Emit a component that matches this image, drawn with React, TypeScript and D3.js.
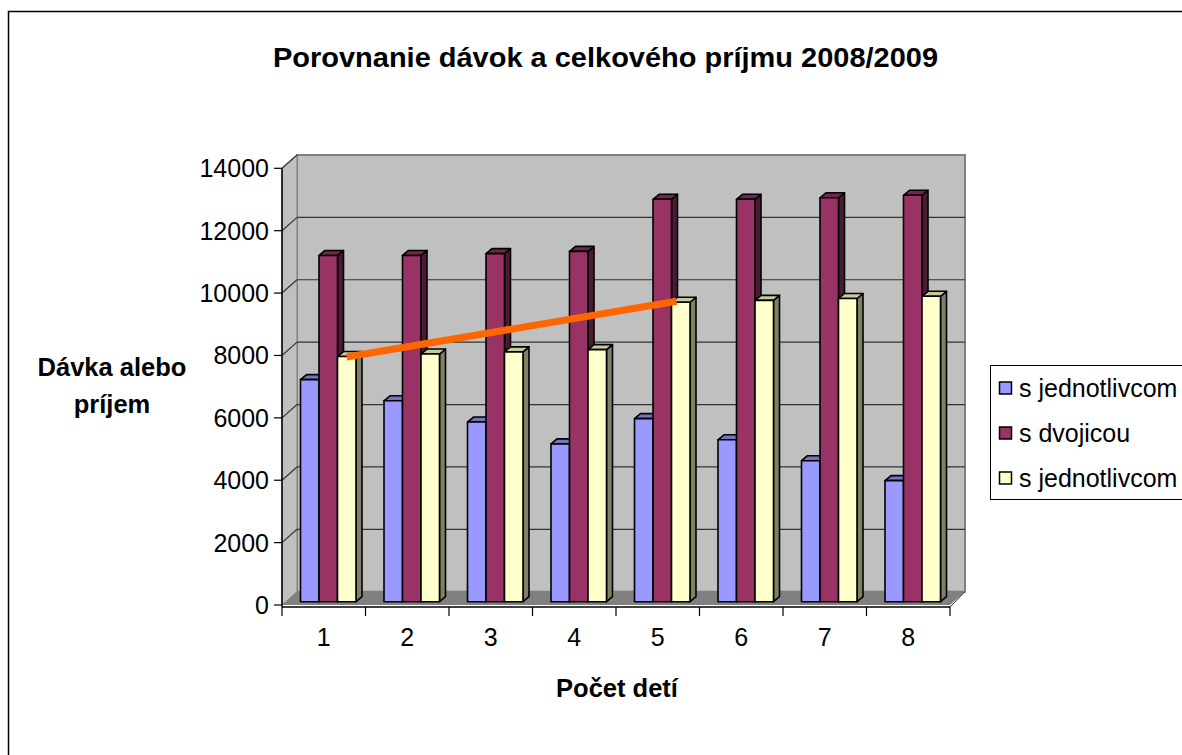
import React from "react";
import * as d3 from "d3";

const title = "Porovnanie dávok a celkového príjmu 2008/2009";
const yTitleLines = ["Dávka alebo", "príjem"];
const xTitle = "Počet detí";
const categories = ["1", "2", "3", "4", "5", "6", "7", "8"];
const seriesNames = ["s jednotlivcom", "s dvojicou", "s jednotlivcom"];
const seriesA = [7120, 6440, 5760, 5060, 5870, 5190, 4520, 3880];
const seriesB = [11100, 11100, 11160, 11230, 12900, 12900, 12950, 13030];
const seriesC = [7860, 7940, 8010, 8080, 9600, 9660, 9720, 9790];
const yTicks = [0, 2000, 4000, 6000, 8000, 10000, 12000, 14000];
const trendFrom = 0;
const trendTo = 4;

const colors = [
  { front: "#9999ff", side: "#5c5c99", top: "#7373bf" },
  { front: "#993366", side: "#4d1a33", top: "#73264d" },
  { front: "#ffffcc", side: "#808066", top: "#c8c89a" },
];

export default function App() {
  const W = 1182, H = 755;
  const x0 = 282, x1 = 950;
  const y = d3.scaleLinear().domain([0, 14000]).range([605, 168.3]);
  const DX = 15, DY = -13.3; // wall depth
  const bx = 4.5, by = -3.3; // bar depth placement
  const bdx = 6, bdy = -5; // bar thickness
  const xb = d3.scaleBand().domain(categories).range([x0, x1]);
  const barW = 18.5;
  const groupW = barW * 3;
  const inner = d3.scaleBand().domain(["0", "1", "2"]).range([0, groupW]);
  const all = [seriesA, seriesB, seriesC];

  const barX = (ci: number, si: number) =>
    (xb(categories[ci]) as number) + bx + (xb.bandwidth() - groupW) / 2 + (inner(String(si)) as number);
  const barY = (v: number) => y(v) + by;

  const wallTopB = y(14000) + DY;
  const wallBotB = y(0) + DY;

  const bars: React.ReactNode[] = [];
  categories.forEach((c, ci) => {
    all.forEach((s, si) => {
      const xl = barX(ci, si);
      const xr = xl + barW;
      const yt = barY(s[ci]);
      const yb = barY(0);
      const col = colors[si];
      const side = `M${xr},${yt} L${xr + bdx},${yt + bdy} L${xr + bdx},${yb + bdy} L${xr},${yb} Z`;
      const top = `M${xl},${yt} L${xl + bdx},${yt + bdy} L${xr + bdx},${yt + bdy} L${xr},${yt} Z`;
      bars.push(
        <g key={`${ci}-${si}`} stroke="#000" strokeWidth={1.6} strokeLinejoin="round">
          <path d={side} fill={col.side} />
          <path d={top} fill={col.top} />
          <rect x={xl} y={yt} width={barW} height={yb - yt} fill={col.front} />
        </g>
      );
    });
  });

  const tx1 = barX(trendFrom, 2) + barW / 2;
  const ty1 = barY(seriesC[trendFrom]) + 0.5;
  const tx2 = barX(trendTo, 2) + 5;
  const ty2 = barY(seriesC[trendTo]) - 1;

  const font = "Arial, 'Liberation Sans', sans-serif";

  return (
    <svg width={W} height={H} style={{ position: "absolute", left: 0, top: 0, display: "block" }} fontFamily={font}>
      <rect x={0} y={0} width={W} height={H} fill="#fff" />
      <rect x={8.5} y={11.5} width={W + 20} height={H + 20} fill="none" stroke="#000" strokeWidth={1.5} />
      <text x={605.5} y={67} textAnchor="middle" fontWeight="bold" fontSize={28} textLength={665} lengthAdjust="spacingAndGlyphs">{title}</text>

      {/* back wall */}
      <rect x={x0 + DX} y={wallTopB} width={x1 - x0} height={wallBotB - wallTopB} fill="#c0c0c0" stroke="#808080" strokeWidth={2} />
      {/* side wall */}
      <path d={`M${x0},${y(0)} L${x0},${y(14000)} L${x0 + DX},${wallTopB} L${x0 + DX},${wallBotB} Z`} fill="#c0c0c0" stroke="#808080" strokeWidth={1} />
      {/* gridlines */}
      {yTicks.filter(t => t > 0 && t < 14000).map(t => (
        <g key={t} stroke="#333" strokeWidth={1.2}>
          <line x1={x0 + DX} x2={x1 + DX} y1={y(t) + DY} y2={y(t) + DY} />
          <line x1={x0} x2={x0 + DX} y1={y(t)} y2={y(t) + DY} />
        </g>
      ))}
      <line x1={x0} x2={x0 + DX} y1={y(14000)} y2={y(14000) + DY} stroke="#333" strokeWidth={1.2} />
      {/* floor */}
      <path d={`M${x0},${y(0)} L${x0 + DX},${wallBotB} L${x1 + DX},${wallBotB} L${x1},${y(0)} Z`} fill="#808080" />
      <line x1={x1} y1={y(0) + 2} x2={x1 + DX} y2={wallBotB} stroke="#333" strokeWidth={1} />

      {bars}

      <line x1={tx1} y1={ty1} x2={tx2} y2={ty2} stroke="#ff6600" strokeWidth={7} />

      {/* y axis */}
      <line x1={x0} x2={x0} y1={y(14000)} y2={y(0) + 2} stroke="#000" strokeWidth={1.5} />
      {yTicks.map(t => (
        <g key={t}>
          <line x1={x0 - 8} x2={x0} y1={y(t)} y2={y(t)} stroke="#000" strokeWidth={1.2} />
          <text x={269} y={y(t) + 9} textAnchor="end" fontSize={25}>{t}</text>
        </g>
      ))}
      {/* x axis */}
      <line x1={x0} x2={x1} y1={y(0) + 2} y2={y(0) + 2} stroke="#000" strokeWidth={1.5} />
      {categories.map((c, i) => (
        <g key={c}>
          <line x1={xb(c) as number} x2={xb(c) as number} y1={y(0) + 2} y2={y(0) + 11} stroke="#000" strokeWidth={1.2} />
          <text x={(xb(c) as number) + xb.bandwidth() / 2} y={646} textAnchor="middle" fontSize={25}>{c}</text>
        </g>
      ))}
      <line x1={x1} x2={x1} y1={y(0) + 2} y2={y(0) + 11} stroke="#000" strokeWidth={1.2} />

      <text x={617} y={697} textAnchor="middle" fontWeight="bold" fontSize={25.5}>{xTitle}</text>
      {yTitleLines.map((l, i) => (
        <text key={i} x={112} y={376 + i * 37} textAnchor="middle" fontWeight="bold" fontSize={25.5}>{l}</text>
      ))}

      {/* legend */}
      <rect x={990.5} y={365.5} width={220} height={134} fill="#fff" stroke="#000" strokeWidth={1} />
      {seriesNames.map((n, i) => (
        <g key={i}>
          <rect x={999.5} y={382 + i * 45} width={12} height={12} fill={colors[i].front} stroke="#000" strokeWidth={1.5} />
          <text x={1019} y={397 + i * 45} fontSize={25}>{n}</text>
        </g>
      ))}
    </svg>
  );
}
